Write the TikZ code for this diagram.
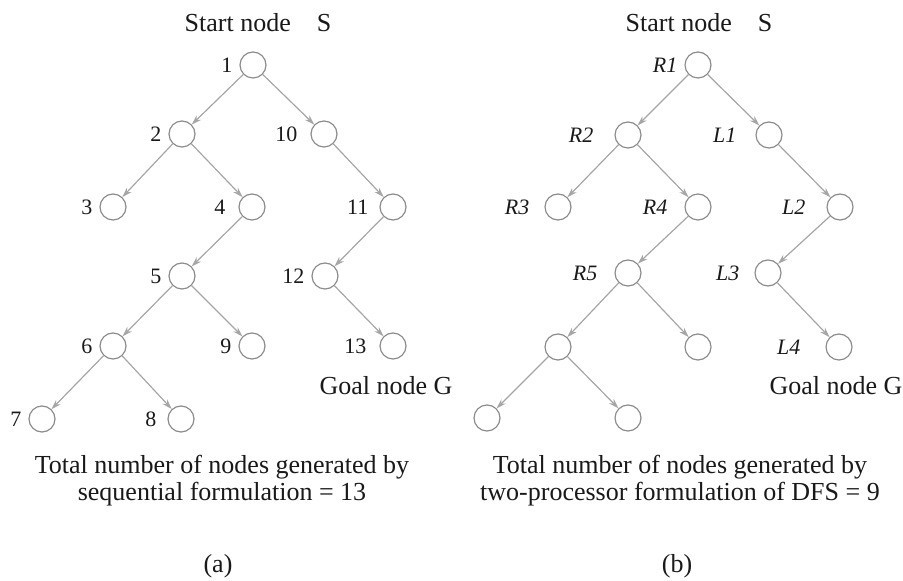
\documentclass[tikz,border=0pt]{standalone}
\usepackage{fontspec}
\setmainfont{Liberation Serif}
\usetikzlibrary{arrows.meta}
\tikzset{
  vert/.style={circle, draw=black!45, line width=0.6pt, minimum size=13pt, inner sep=0pt},
  lbl/.style={font=\fontsize{11}{13}\selectfont, text=black!90},
  ilbl/.style={font=\fontsize{11}{13}\selectfont\itshape, text=black!90},
  txt/.style={font=\fontsize{13}{13.5}\selectfont, text=black!90, align=center}
}
\begin{document}
\begin{tikzpicture}[x=0.5pt, y=-0.5pt, >={Stealth[length=5pt,width=3.2pt]}]
		\useasboundingbox (0,0) rectangle (903,581);
		% (a) sequential
		\node[txt] (sa) at (258,23) {Start node\quad S};
		\node[vert, label={[lbl]left:1}] (n1) at (253,65) {};
		\node[vert, label={[lbl]left:2}] (n2) at (182,134) {};
		\node[vert, label={[lbl, label distance=3pt]left:10}] (n10) at (324,134) {};
		\node[vert, label={[lbl]left:3}] (n3) at (113,207) {};
		\node[vert, label={[lbl, label distance=3pt]left:4}] (n4) at (252,207) {};
		\node[vert, label={[lbl, label distance=2pt]left:11}] (n11) at (393,207) {};
		\node[vert, label={[lbl]left:5}] (n5) at (182,276) {};
		\node[vert, label={[lbl]left:12}] (n12) at (325,276) {};
		\node[vert, label={[lbl]left:6}] (n6) at (113,346) {};
		\node[vert, label={[lbl]left:9}] (n9) at (252,346) {};
		\node[vert, label={[lbl, label distance=3pt]left:13}] (n13) at (393,346) {};
		\node[vert, label={[lbl]left:7}] (n7) at (42,419) {};
		\node[vert, label={[lbl, label distance=2pt]left:8}] (n8) at (181,419) {};
		\node[txt] (ga) at (386,386) {Goal node G};
		\node[txt] (ta) at (222,481) {Total number of nodes generated by\\sequential formulation = 13};
		\node[txt] (ca) at (218,566) {(a)};
		\draw[->, black!35, line width=0.6pt] (n1) -- (n2);
		\draw[->, black!35, line width=0.6pt] (n1) -- (n10);
		\draw[->, black!35, line width=0.6pt] (n2) -- (n3);
		\draw[->, black!35, line width=0.6pt] (n2) -- (n4);
		\draw[->, black!35, line width=0.6pt] (n4) -- (n5);
		\draw[->, black!35, line width=0.6pt] (n5) -- (n6);
		\draw[->, black!35, line width=0.6pt] (n5) -- (n9);
		\draw[->, black!35, line width=0.6pt] (n6) -- (n7);
		\draw[->, black!35, line width=0.6pt] (n6) -- (n8);
		\draw[->, black!35, line width=0.6pt] (n10) -- (n11);
		\draw[->, black!35, line width=0.6pt] (n11) -- (n12);
		\draw[->, black!35, line width=0.6pt] (n12) -- (n13);
		% (b) two processors
		\node[txt] (sb) at (699,23) {Start node\quad S};
		\node[vert, label={[ilbl]left:R1}] (r1) at (698,65) {};
		\node[vert, label={[ilbl, label distance=7pt]left:R2}] (r2) at (628,135) {};
		\node[vert, label={[ilbl, label distance=6pt]left:L1}] (l1) at (769,135) {};
		\node[vert, label={[ilbl, label distance=4pt]left:R3}] (r3) at (558,207) {};
		\node[vert, label={[ilbl, label distance=5pt]left:R4}] (r4) at (698,207) {};
		\node[vert, label={[ilbl, label distance=7pt]left:L2}] (l2) at (840,207) {};
		\node[vert, label={[ilbl, label distance=5pt]left:R5}] (r5) at (628,273) {};
		\node[vert, label={[ilbl, label distance=4pt]left:L3}] (l3) at (768,273) {};
		\node[vert] (b1) at (558,347) {};
		\node[vert] (b2) at (698,347) {};
		\node[vert, label={[ilbl, label distance=9pt]left:L4}] (l4) at (839,347) {};
		\node[vert] (b3) at (487,418) {};
		\node[vert] (b4) at (628,418) {};
		\node[txt] (gb) at (836,386) {Goal node G};
		\node[txt] (tb) at (680,481) {Total number of nodes generated by\\two-processor formulation of DFS = 9};
		\node[txt] (cb) at (677,566) {(b)};
		\draw[->, black!35, line width=0.6pt] (r1) -- (r2);
		\draw[->, black!35, line width=0.6pt] (r1) -- (l1);
		\draw[->, black!35, line width=0.6pt] (r2) -- (r3);
		\draw[->, black!35, line width=0.6pt] (r2) -- (r4);
		\draw[->, black!35, line width=0.6pt] (r4) -- (r5);
		\draw[->, black!35, line width=0.6pt] (r5) -- (b1);
		\draw[->, black!35, line width=0.6pt] (r5) -- (b2);
		\draw[->, black!35, line width=0.6pt] (b1) -- (b3);
		\draw[->, black!35, line width=0.6pt] (b1) -- (b4);
		\draw[->, black!35, line width=0.6pt] (l1) -- (l2);
		\draw[->, black!35, line width=0.6pt] (l2) -- (l3);
		\draw[->, black!35, line width=0.6pt] (l3) -- (l4);
	\end{tikzpicture}
\end{document}
